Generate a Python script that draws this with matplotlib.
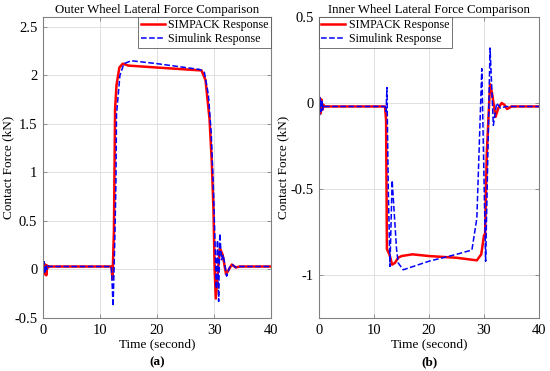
import matplotlib.pyplot as plt
import numpy as np

plt.rcParams['font.family'] = ['Liberation Serif', 'DejaVu Serif']
plt.rcParams['axes.unicode_minus'] = False

# (a) outer wheel lateral force, kN
outer_t_simpack = [0, 0.15, 0.3, 0.45, 0.6, 0.75, 0.9, 1.1, 12.0, 12.2, 12.45, 12.65,
                   12.9, 13.4, 14.0, 15, 20, 27.8, 28.5, 29.2, 29.6, 29.9, 30.1,
                   30.3, 31.0, 31.5, 32.1, 32.6, 33.1, 33.8, 34.5, 40]
outer_simpack = [0, 0.06, -0.05, 0.05, -0.06, 0.04, 0.02, 0.03, 0.03, -0.1, 0.4, 1.65,
                 1.9, 2.08, 2.12, 2.10, 2.08, 2.05, 1.95, 1.55, 1.1, 0.6, 0.0,
                 -0.3, 0.22, 0.15, -0.05, 0.0, 0.05, 0.02, 0.03, 0.03]
outer_t_simulink = [0, 0.1, 0.2, 0.35, 0.5, 0.65, 0.8, 1.0, 12.0, 12.3, 12.6, 12.8,
                    12.9, 13.5, 14.2, 15.5, 20, 27.5, 28.3, 29.0, 29.5, 29.9, 30.2,
                    30.4, 30.6, 30.8, 31.0, 31.3, 31.6, 32.2, 32.7, 33.2, 33.8, 34.5, 40]
outer_simulink = [0.1, -0.05, 0.08, -0.04, 0.05, 0.0, 0.04, 0.03, 0.03, -0.38, 0.3, 0.9,
                  1.6, 2.0, 2.12, 2.15, 2.12, 2.06, 2.03, 1.8, 1.4, 0.8, 0.2,
                  -0.2, 0.3, -0.33, 0.37, 0.1, 0.15, -0.07, 0.02, 0.05, 0.02, 0.03, 0.03]

# (b) inner wheel lateral force, kN
inner_t_simpack = [0, 0.15, 0.3, 0.45, 0.6, 0.8, 1.0, 12.0, 12.2, 12.35, 12.8, 13.3,
                   13.8, 14.4, 15.0, 16.0, 17.0, 20, 25, 28.7, 29.5, 30.0, 30.2,
                   30.5, 31.1, 31.5, 32.1, 32.6, 33.2, 33.7, 34.2, 35, 40]
inner_simpack = [-0.02, 0.03, -0.06, 0.02, -0.04, -0.01, -0.02, -0.02, -0.1, -0.85, -0.88, -0.94,
                 -0.93, -0.9, -0.89, -0.885, -0.88, -0.89, -0.90, -0.915, -0.88, -0.77, -0.76,
                 -0.3, 0.11, 0.05, -0.08, -0.03, 0.0, -0.01, -0.035, -0.02, -0.02]
inner_t_simulink = [0, 0.1, 0.2, 0.35, 0.5, 0.65, 0.8, 1.0, 12.0, 12.2, 12.35, 12.6,
                    12.9, 13.3, 13.6, 14.1, 14.4, 15.3, 20, 25, 27.8, 28.7, 29.6,
                    30.3, 31.1, 31.7, 32.3, 33.0, 34, 35, 40]
inner_simulink = [0.05, -0.07, 0.03, -0.05, 0.02, -0.04, -0.01, -0.02, -0.02, -0.05, 0.09, -0.5,
                  -0.95, -0.45, -0.6, -0.85, -0.93, -0.97, -0.92, -0.88, -0.855, -0.67, 0.2,
                  -0.92, 0.32, -0.13, 0.0, -0.03, -0.02, -0.02, -0.02]

fig = plt.figure(figsize=(5.5, 3.71), dpi=100)
ax1 = fig.add_axes([0.078, 0.143, 0.415, 0.811])
ax2 = fig.add_axes([0.58, 0.143, 0.40, 0.811])


def style(ax, title, yticks, ylim, letter, legend_loc, ylab_x):
    ax.set_xlim(0, 40)
    ax.set_ylim(*ylim)
    ax.set_xticks([0, 10, 20, 30, 40])
    ax.set_yticks(yticks)
    ax.set_yticklabels([f"{v:g}" for v in yticks])
    ax.grid(True, color='#e0e0e0', linewidth=0.7)
    ax.set_axisbelow(True)
    ax.tick_params(direction='in', top=True, right=True, labelsize=10.5,
                   length=3, color='#808080', width=0.6, pad=4)
    for s in ax.spines.values():
        s.set_color('#808080')
        s.set_linewidth(0.8)
    ax.set_title(title, fontsize=9.3, pad=3)
    ax.set_xlabel('Time (second)', fontsize=9.5, labelpad=1)
    ax.set_ylabel('Contact Force (kN)', fontsize=9.5)
    ax.yaxis.set_label_coords(ylab_x, 0.5)
    ax.text(0.5, -0.146, letter, transform=ax.transAxes, ha='center', va='center',
            fontsize=9.5, fontweight='bold')
    leg = ax.legend(loc=legend_loc, fontsize=8.6, frameon=True, fancybox=False,
                    borderpad=0.2, handlelength=2.0, handletextpad=0.3,
                    borderaxespad=0.0, labelspacing=0.15)
    leg.get_frame().set_edgecolor('#505050')
    leg.get_frame().set_linewidth(0.7)


ax1.plot(outer_t_simpack, outer_simpack, color='#ff0000', lw=1.8, label='SIMPACK Response')
ax1.plot(outer_t_simulink, outer_simulink, color='#0000ff', lw=1.1, ls='--', label='Simulink Response')
style(ax1, 'Outer Wheel Lateral Force Comparison', [-0.5, 0, 0.5, 1, 1.5, 2, 2.5],
      (-0.5, 2.6), '(a)', 'upper right', -0.125)

ax2.plot(inner_t_simpack, inner_simpack, color='#ff0000', lw=1.8, label='SIMPACK Response')
ax2.plot(inner_t_simulink, inner_simulink, color='#0000ff', lw=1.1, ls='--', label='Simulink Response')
style(ax2, 'Inner Wheel Lateral Force Comparison', [-1, -0.5, 0, 0.5],
      (-1.25, 0.5), '(b)', 'upper left', -0.135)

fig.savefig('out.png', dpi=100)
